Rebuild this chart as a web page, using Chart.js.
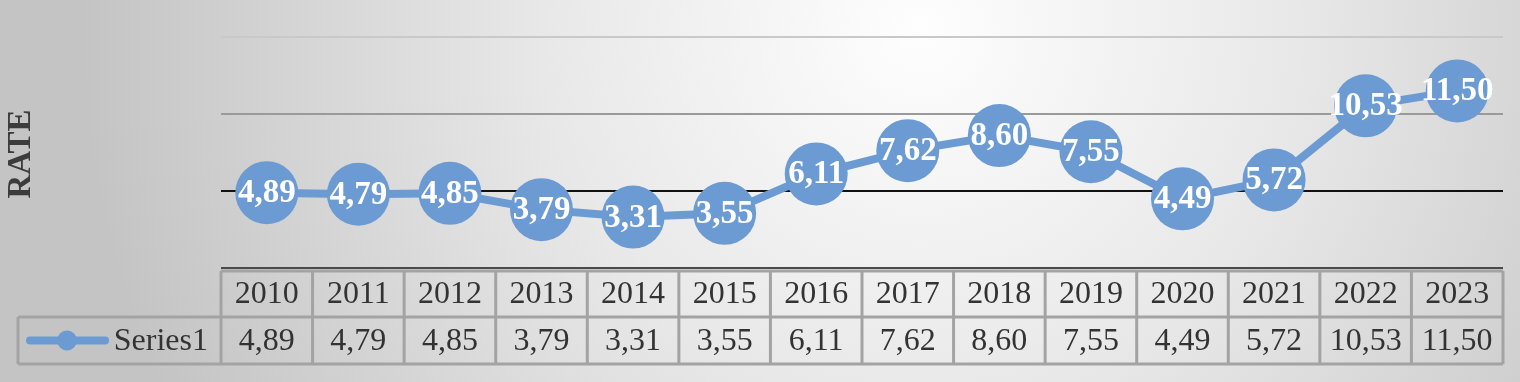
<!DOCTYPE html>
<html>
<head>
<meta charset="utf-8">
<script src="https://cdn.jsdelivr.net/npm/chart.js@4.4.1/dist/chart.umd.min.js"></script>
<style>
  html, body { margin: 0; padding: 0; background: #c8c8c8; overflow: hidden; }
</style>
</head>
<body>
<canvas id="rateChart" width="1520" height="382"></canvas>
<script>
const years = ["2010", "2011", "2012", "2013", "2014", "2015", "2016",
               "2017", "2018", "2019", "2020", "2021", "2022", "2023"];
const rates = [4.89, 4.79, 4.85, 3.79, 3.31, 3.55, 6.11, 7.62, 8.60, 7.55, 4.49, 5.72, 10.53, 11.50];
const rateText = rates.map(v => v.toFixed(2).replace(".", ","));
const seriesName = "Series1";
const axisTitle = "RATE";

const BLUE = "#6b9bd2";
const SERIF = '"Liberation Serif", "Times New Roman", serif';

// radial grey background like the office chart style
const bgPlugin = {
  id: "bg",
  beforeDraw(chart) {
    const { ctx, width, height } = chart;
    const g = ctx.createRadialGradient(920, 30, 0, 920, 30, 840);
    g.addColorStop(0, "#fefefe");
    g.addColorStop(0.45, "#e8e8e8");
    g.addColorStop(1, "#c4c4c4");
    ctx.save();
    ctx.fillStyle = g;
    ctx.fillRect(0, 0, width, height);
    ctx.restore();
  }
};

// white value labels on top of the markers
const labelPlugin = {
  id: "pointLabels",
  afterDatasetsDraw(chart) {
    const { ctx } = chart;
    const meta = chart.getDatasetMeta(0);
    ctx.save();
    ctx.font = "bold 33px " + SERIF;
    ctx.fillStyle = "#ffffff";
    ctx.textAlign = "center";
    ctx.textBaseline = "middle";
    meta.data.forEach((pt, i) => ctx.fillText(rateText[i], pt.x, pt.y + 1));
    ctx.restore();
  }
};

// y axis title + data table under the plot
const tablePlugin = {
  id: "dataTable",
  afterDraw(chart) {
    const { ctx, chartArea } = chart;
    const x = chart.scales.x;
    const left = chartArea.left, right = chartArea.right;
    const top = chartArea.bottom + 3, mid = top + 46, bottom = mid + 47;
    const legLeft = 18;

    ctx.save();
    // axis title
    ctx.translate(21, 154);
    ctx.rotate(-Math.PI / 2);
    ctx.font = "bold 33px " + SERIF;
    ctx.fillStyle = "#3c3c3c";
    ctx.textAlign = "center";
    ctx.textBaseline = "middle";
    ctx.fillText(axisTitle, 0, 0);
    ctx.restore();

    ctx.save();
    ctx.strokeStyle = "#a3a3a3";
    ctx.lineWidth = 3;
    // grid of the table
    ctx.beginPath();
    ctx.moveTo(left, top); ctx.lineTo(right, top);
    ctx.moveTo(legLeft, mid); ctx.lineTo(right, mid);
    ctx.moveTo(legLeft, bottom); ctx.lineTo(right, bottom);
    ctx.moveTo(legLeft, mid); ctx.lineTo(legLeft, bottom);
    ctx.moveTo(left, top); ctx.lineTo(left, bottom);
    years.forEach((y, i) => {
      const edge = (x.getPixelForValue(i) + x.getPixelForValue(Math.min(i + 1, years.length - 1))) / 2;
      const xr = i === years.length - 1 ? right : edge;
      ctx.moveTo(xr, top); ctx.lineTo(xr, bottom);
    });
    ctx.stroke();

    ctx.font = "32px " + SERIF;
    ctx.fillStyle = "#333333";
    ctx.textAlign = "center";
    ctx.textBaseline = "middle";
    years.forEach((y, i) => {
      const cx = x.getPixelForValue(i);
      ctx.fillText(y, cx, (top + mid) / 2 + 1);
      ctx.fillText(rateText[i], cx, (mid + bottom) / 2 + 1);
    });

    // legend key
    const ly = (mid + bottom) / 2;
    ctx.strokeStyle = BLUE;
    ctx.lineWidth = 8;
    ctx.lineCap = "round";
    ctx.beginPath();
    ctx.moveTo(30, ly); ctx.lineTo(105, ly);
    ctx.stroke();
    ctx.fillStyle = BLUE;
    ctx.beginPath();
    ctx.arc(67, ly, 10, 0, Math.PI * 2);
    ctx.fill();
    ctx.fillStyle = "#333333";
    ctx.textAlign = "right";
    ctx.fillText(seriesName, left - 13, ly + 1);
    ctx.restore();
  }
};

const gridColours = { 0: "#4a4a4a", 5: "#111111", 10: "#9a9a9a", 15: "#c9c9c9" };

new Chart(document.getElementById("rateChart"), {
  type: "line",
  data: {
    labels: years,
    datasets: [{
      label: seriesName,
      data: rates,
      borderColor: BLUE,
      backgroundColor: BLUE,
      borderWidth: 8,
      pointRadius: 31.5,
      pointHoverRadius: 31.5,
      pointBorderWidth: 0,
      tension: 0,
      clip: false
    }]
  },
  options: {
    responsive: false,
    animation: false,
    devicePixelRatio: 1,
    layout: { autoPadding: false, padding: { left: 0, right: 17, top: 37, bottom: 114 } },
    plugins: {
      legend: { display: false },
      tooltip: { enabled: false }
    },
    scales: {
      x: { type: "category", offset: true, display: false },
      y: {
        min: 0,
        max: 15,
        ticks: { stepSize: 5, display: false },
        border: { display: false },
        grid: {
          drawTicks: false,
          lineWidth: 2,
          color: c => gridColours[c.tick.value] || "#999"
        },
        afterFit: s => { s.width = 221; }
      }
    }
  },
  plugins: [bgPlugin, labelPlugin, tablePlugin]
});
</script>
</body>
</html>
